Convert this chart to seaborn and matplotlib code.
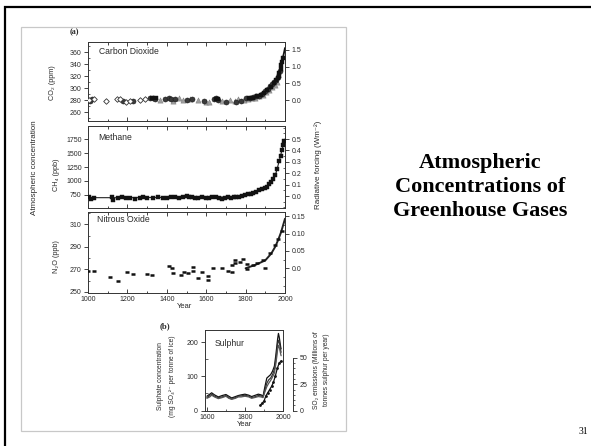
import numpy as np
import pandas as pd
import matplotlib
matplotlib.use("Agg")
import matplotlib.pyplot as plt
import seaborn as sns
from matplotlib.ticker import MultipleLocator, FixedLocator
from matplotlib.patches import Rectangle

# ---------------- data ----------------
# Carbon dioxide (ppm), several ice-core / instrumental records
co2_dia_year = [1006, 1030, 1090, 1146, 1160, 1195, 1215, 1262, 1290]
co2_dia_val = [280, 281, 279, 282, 281, 277, 278, 280, 281]
co2_circ_year = [1010, 1020, 1180, 1230, 1315, 1330, 1340, 1390, 1410, 1420, 1440, 1500,
                 1530, 1590, 1640, 1650, 1660, 1700, 1750, 1775, 1800, 1820, 1840, 1855,
                 1870, 1885, 1900, 1915, 1925, 1935, 1945, 1955, 1965, 1975]
co2_circ_val = [279, 281, 278, 279, 283, 284, 282, 281, 283, 282, 281, 280,
                281, 278, 281, 283, 280, 277, 277, 279, 283, 284, 285, 286,
                287, 290, 295, 299, 303, 306, 310, 313, 318, 328]
co2_tri_year = [1365, 1430, 1460, 1480, 1520, 1560, 1600, 1615, 1680, 1720, 1745, 1760,
                1790, 1810, 1830, 1850, 1870, 1890, 1905, 1920, 1935, 1950, 1960]
co2_tri_val = [280, 279, 284, 280, 281, 280, 277, 276, 278, 280, 279, 281,
               280, 282, 283, 284, 286, 289, 293, 297, 301, 305, 310]
co2_sq_year = [1325, 1345, 1650, 1660, 1815, 1840, 1860, 1880, 1895, 1910, 1930, 1945,
               1955, 1962, 1968, 1972, 1978, 1982, 1986, 1990]
co2_sq_val = [283, 283, 282, 281, 284, 284, 286, 289, 292, 297, 302, 308,
              313, 317, 321, 326, 332, 338, 344, 350]
co2_line_year = [1958, 1965, 1970, 1975, 1980, 1985, 1990, 1995, 2000]
co2_line_val = [315, 320, 325, 331, 337, 344, 352, 359, 367]

# Methane (ppb)
ch4_year = [1005, 1015, 1030, 1120, 1125, 1150, 1175, 1195, 1215, 1240, 1262, 1280, 1300,
            1330, 1355, 1380, 1400, 1420, 1440, 1460, 1480, 1500, 1515, 1530, 1545, 1560,
            1580, 1600, 1615, 1630, 1650, 1665, 1680, 1695, 1710, 1725, 1740, 1750, 1765,
            1780, 1795, 1810, 1825, 1840, 1855, 1870, 1885, 1900, 1910, 1920, 1930, 1940,
            1950, 1960, 1970, 1978, 1985, 1990, 1995]
ch4_val = [715, 680, 700, 705, 665, 700, 705, 690, 700, 680, 690, 705, 700,
           690, 710, 700, 690, 715, 705, 700, 720, 730, 715, 710, 700, 695,
           705, 700, 690, 705, 710, 700, 680, 700, 715, 700, 710, 720, 715,
           730, 745, 760, 770, 790, 810, 830, 850, 880, 900, 940, 980, 1030,
           1110, 1210, 1350, 1450, 1560, 1640, 1710]
ch4_fit_year = [1000, 1200, 1400, 1600, 1700, 1750, 1800, 1850, 1900, 1930, 1955, 1970, 1985, 2000]
ch4_fit_val = [700, 700, 705, 705, 710, 720, 750, 800, 880, 1000, 1150, 1350, 1560, 1750]

# Nitrous oxide (ppb)
n2o_year = [1000, 1030, 1112, 1154, 1196, 1227, 1298, 1327, 1409, 1425, 1434, 1473, 1487,
            1509, 1535, 1535, 1560, 1577, 1611, 1611, 1633, 1679, 1712, 1729, 1729, 1746,
            1746, 1772, 1789, 1805, 1805, 1839, 1860, 1890, 1900, 1924, 1949, 1966, 1983]
n2o_val = [269, 269, 263, 260, 268, 266, 266, 265, 273, 271, 267, 265, 268,
           267, 272, 269, 262, 268, 264, 261, 271, 271, 269, 274, 268, 278,
           276, 277, 279, 275, 270, 274, 276, 278, 271, 285, 292, 297, 304]
n2o_fit_year = [1800, 1850, 1900, 1930, 1950, 1965, 1980, 1990, 2000]
n2o_fit_val = [271, 274, 278, 284, 290, 296, 303, 309, 315]

# Sulphur: sulphate concentration (mg SO4 per tonne of ice), three ice cores
s_year = [1600, 1615, 1625, 1640, 1660, 1680, 1700, 1715, 1730, 1750, 1765, 1780, 1800,
          1820, 1835, 1850, 1870, 1885, 1895, 1905, 1915, 1925, 1935, 1945, 1955, 1962,
          1968, 1972, 1976, 1980, 1984, 1988, 1990]
s_core1 = [42, 48, 52, 46, 40, 44, 47, 42, 37, 41, 44, 46, 48,
           45, 41, 44, 48, 46, 42, 70, 95, 100, 105, 115, 130, 160,
           190, 210, 225, 215, 200, 185, 180]
s_core2 = [38, 44, 48, 42, 38, 40, 44, 38, 34, 38, 42, 43, 45,
           42, 38, 40, 44, 43, 40, 60, 80, 90, 95, 105, 120, 145,
           175, 195, 205, 200, 190, 175, 170]
s_core3 = [36, 40, 45, 40, 35, 38, 42, 36, 33, 36, 40, 40, 42,
           40, 36, 38, 41, 40, 38, 55, 70, 80, 88, 98, 110, 135,
           160, 180, 190, 185, 175, 165, 160]
# SO2 emissions (Millions of tonnes sulphur per year)
so2_year = [1880, 1890, 1900, 1910, 1920, 1930, 1940, 1950, 1960, 1970, 1980, 1990]
so2_val = [5, 7, 9, 14, 17, 20, 23, 27, 33, 40, 45, 47]

# ---------------- figure ----------------
W, H = 591, 446
sns.set_style("ticks")
plt.rcParams['font.family'] = ['Liberation Sans', 'DejaVu Sans']
plt.rcParams['axes.linewidth'] = 0.7
TXT = '#2a2a2a'
LAB = 5.0

fig = plt.figure(figsize=(W / 100, H / 100), dpi=100)
fig.patch.set_facecolor('white')


def prect(x0, y0, x1, y1):
    return [x0 / W, 1 - y1 / H, (x1 - x0) / W, (y1 - y0) / H]


def ftext(x, y, s, **kw):
    kw.setdefault('color', TXT)
    fig.text(x / W, 1 - y / H, s, **kw)


# slide frame (runs off the right and bottom edges) and figure box
fig.patches.append(Rectangle((5 / W, 1 - 452 / H), 595 / W, 445.5 / H, transform=fig.transFigure,
                             fill=False, edgecolor='black', linewidth=1.6))
fig.patches.append(Rectangle((20.5 / W, 1 - 431 / H), 325.5 / W, 404 / H, transform=fig.transFigure,
                             fill=False, edgecolor='#c8c8c8', linewidth=0.9))


def style_main(ax, xlabels):
    ax.set_xlim(1000, 2000)
    ax.xaxis.set_major_locator(MultipleLocator(200))
    ax.xaxis.set_minor_locator(MultipleLocator(100))
    ax.tick_params(axis='x', which='both', direction='in', top=True, bottom=True,
                   labelsize=LAB, labelcolor=TXT, pad=2, width=0.6)
    ax.tick_params(axis='x', which='major', length=3)
    ax.tick_params(axis='x', which='minor', length=1.8)
    ax.tick_params(axis='y', which='major', direction='out', length=3, width=0.6,
                   labelsize=LAB, labelcolor=TXT, pad=1.5)
    ax.tick_params(axis='y', which='minor', direction='in', length=1.5, width=0.5)
    if not xlabels:
        ax.tick_params(axis='x', labelbottom=False)
    ax.set_xlabel('')
    ax.set_ylabel('')
    for sp in ax.spines.values():
        sp.set_visible(True)
        sp.set_color('#333333')


def style_sec(sec, ticks, labels, minor=None):
    sec.set_yticks(ticks, labels=labels)
    sec.tick_params(which='major', direction='out', length=3, width=0.6, labelsize=LAB,
                    labelcolor=TXT, pad=1.5)
    if minor is not None:
        sec.yaxis.set_minor_locator(MultipleLocator(minor))
        sec.tick_params(which='minor', direction='in', length=1.5, width=0.5)
    sec.spines['right'].set_color('#333333')


# ---- CO2 ----
ax1 = fig.add_axes(prect(88, 42, 285, 121))
sns.scatterplot(x=co2_circ_year, y=co2_circ_val, ax=ax1, marker='o', s=13, color='#3a3a3a',
                edgecolor='#1a1a1a', linewidth=0.4, zorder=3)
sns.scatterplot(x=co2_tri_year, y=co2_tri_val, ax=ax1, marker='^', s=14, color='#a0a0a0',
                edgecolor='#808080', linewidth=0.4, zorder=2)
sns.scatterplot(x=co2_dia_year, y=co2_dia_val, ax=ax1, marker='D', s=8, color='white',
                edgecolor='#333333', linewidth=0.6, zorder=3)
sns.scatterplot(x=co2_sq_year, y=co2_sq_val, ax=ax1, marker='s', s=8, color='#111111',
                edgecolor='#111111', linewidth=0.3, zorder=4)
sns.lineplot(x=co2_line_year, y=co2_line_val, ax=ax1, color='#111111', linewidth=1.3,
             sort=False, estimator=None, zorder=5)
ax1.set_ylim(245, 377)
ax1.set_yticks([260, 280, 300, 320, 340, 360])
ax1.yaxis.set_minor_locator(MultipleLocator(10))
style_main(ax1, False)
sec1 = ax1.secondary_yaxis('right', functions=(lambda c: (c - 280) / 56.0, lambda r: r * 56.0 + 280))
style_sec(sec1, [0.0, 0.5, 1.0, 1.5], ['0.0', '0.5', '1.0', '1.5'])

# ---- CH4 ----
ax2 = fig.add_axes(prect(88, 126, 285, 208))
sns.lineplot(x=ch4_fit_year, y=ch4_fit_val, ax=ax2, color='#222222', linewidth=0.8,
             sort=False, estimator=None, zorder=2)
sns.scatterplot(x=ch4_year, y=ch4_val, ax=ax2, marker='s', s=6, color='#111111',
                edgecolor='#111111', linewidth=0.3, zorder=3)
ax2.set_ylim(515, 1985)
ax2.set_yticks([750, 1000, 1250, 1500, 1750])
style_main(ax2, False)
sec2 = ax2.secondary_yaxis('right', functions=(lambda m: (m - 730) / 2040.0, lambda r: r * 2040.0 + 730))
style_sec(sec2, [0.0, 0.1, 0.2, 0.3, 0.4, 0.5], ['0.0', '0.1', '0.2', '0.3', '0.4', '0.5'], minor=0.05)

# ---- N2O ----
ax3 = fig.add_axes(prect(88, 212, 285, 293))
sns.lineplot(x=n2o_fit_year, y=n2o_fit_val, ax=ax3, color='#222222', linewidth=1.4,
             sort=False, estimator=None, zorder=2)
sns.scatterplot(x=n2o_year, y=n2o_val, ax=ax3, marker='_', s=10, color='#111111',
                linewidth=1.8, zorder=3)
ax3.set_ylim(249, 321)
ax3.set_yticks([250, 270, 290, 310])
ax3.yaxis.set_minor_locator(MultipleLocator(10))
style_main(ax3, True)
sec3 = ax3.secondary_yaxis('right', functions=(lambda n: (n - 271) / 307.0, lambda r: r * 307.0 + 271))
style_sec(sec3, [0.0, 0.05, 0.10, 0.15], ['0.0', '0.05', '0.10', '0.15'], minor=0.025)

# ---- Sulphur ----
ax4 = fig.add_axes(prect(205, 330, 283, 411))
for vals, col in zip([s_core1, s_core2, s_core3], ['#111111', '#333333', '#555555']):
    sns.lineplot(x=s_year, y=vals, ax=ax4, color=col, linewidth=0.9, sort=False, estimator=None)
ax4.set_xlim(1590, 2000)
ax4.set_ylim(-1, 235)
ax4.set_xticks([1600, 1800, 2000])
ax4.xaxis.set_minor_locator(MultipleLocator(100))
ax4.set_yticks([0, 100, 200])
ax4.yaxis.set_minor_locator(MultipleLocator(50))
ax4.tick_params(axis='both', which='major', direction='in', length=3, width=0.6,
                labelsize=LAB, labelcolor=TXT, pad=2)
ax4.tick_params(axis='both', which='minor', direction='in', length=1.8, width=0.5)
ax4.tick_params(axis='y', which='major', direction='out')
ax4.set_xlabel('')
ax4.set_ylabel('')
for sp in ax4.spines.values():
    sp.set_visible(True)
    sp.set_color('#333333')

ax5 = ax4.twinx()
sns.lineplot(x=so2_year, y=so2_val, ax=ax5, color='#111111', linewidth=0.9, marker='o',
             markersize=2, markeredgewidth=0, sort=False, estimator=None)
ax5.set_ylim(-1 * 50 / 154, 235 * 50 / 154)
ax5.set_yticks([0, 25, 50])
ax5.yaxis.set_minor_locator(FixedLocator([5, 10, 15, 20, 30, 35, 40, 45]))
ax5.spines['right'].set_position(('axes', (293 - 205) / 78))
ax5.spines['right'].set_bounds(0, 50)
ax5.spines['right'].set_color('#333333')
for s in ['top', 'left', 'bottom']:
    ax5.spines[s].set_visible(False)
ax5.tick_params(axis='y', which='major', direction='out', length=3, width=0.6,
                labelsize=LAB, labelcolor=TXT, pad=1.5)
ax5.tick_params(axis='y', which='minor', direction='out', length=1.5, width=0.5)
ax5.set_ylabel('')
ax5.set_xlabel('')

# ---------------- texts ----------------
ftext(74.5, 32, '(a)', fontsize=5.8, fontweight='bold', ha='center', va='center',
      family=['Liberation Serif', 'DejaVu Serif'])
ftext(99, 51.5, 'Carbon Dioxide', fontsize=6.2, ha='left', va='center')
ftext(98, 137, 'Methane', fontsize=6.2, ha='left', va='center')
ftext(97, 220, 'Nitrous Oxide', fontsize=6.2, ha='left', va='center')
ftext(53, 83, 'CO₂ (ppm)', fontsize=5.2, rotation=90, ha='center', va='center')
ftext(57, 175, 'CH₄ (ppb)', fontsize=5.2, rotation=90, ha='center', va='center')
ftext(57, 257, 'N₂O (ppb)', fontsize=5.2, rotation=90, ha='center', va='center')
ftext(35, 168, 'Atmospheric concentration', fontsize=5.8, rotation=90, ha='center', va='center')
ftext(318, 165, 'Radiative forcing (Wm⁻²)', fontsize=5.8, rotation=90, ha='center', va='center')
ftext(185, 306, 'Year', fontsize=5.5, ha='center', va='center')

ftext(165, 326, '(b)', fontsize=6.2, fontweight='bold', ha='center', va='center',
      family=['Liberation Serif', 'DejaVu Serif'])
ftext(215, 343, 'Sulphur', fontsize=6.2, ha='left', va='center')
ftext(245, 425, 'Year', fontsize=5.5, ha='center', va='center')
ftext(161, 376, 'Sulphate concentration', fontsize=4.8, rotation=90, ha='center', va='center')
ftext(172, 376, '(mg SO₄²⁻ per tonne of ice)', fontsize=4.8, rotation=90, ha='center', va='center')
ftext(317, 370, 'SO₂ emissions (Millions of', fontsize=4.8, rotation=90, ha='center', va='center')
ftext(326, 370, 'tonnes sulphur per year)', fontsize=4.8, rotation=90, ha='center', va='center')

serif = ['Liberation Serif', 'DejaVu Serif']
ftext(480, 163, 'Atmospheric', fontsize=16, fontweight='bold', ha='center', va='center',
      family=serif, color='black')
ftext(480, 187, 'Concentrations of', fontsize=16, fontweight='bold', ha='center', va='center',
      family=serif, color='black')
ftext(480, 210.5, 'Greenhouse Gases', fontsize=16, fontweight='bold', ha='center', va='center',
      family=serif, color='black')
ftext(583, 431, '31', fontsize=7, ha='center', va='center', family=serif, color='black')

fig.savefig('out.png', dpi=100, facecolor='white')
